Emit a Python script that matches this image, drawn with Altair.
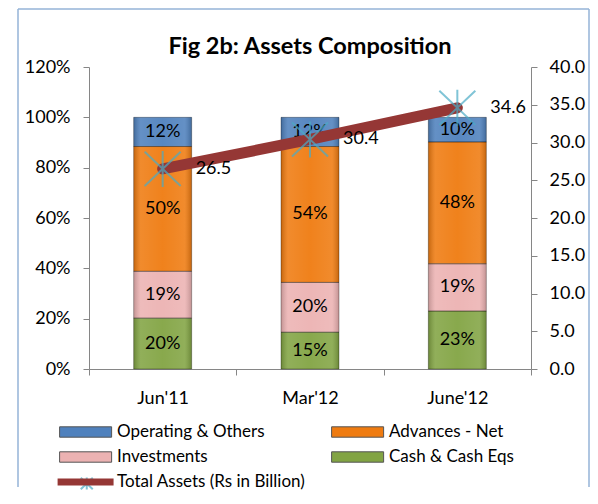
import altair as alt
import pandas as pd

categories = ["Jun'11", "Mar'12", "June'12"]
series_names = ["Operating & Others", "Advances - Net", "Investments", "Cash & Cash Eqs"]
stack_order = [4, 3, 2, 1]
others = [11.6, 11.6, 9.8]
advances = [49.6, 54.0, 48.4]
investments = [18.6, 19.8, 18.8]
cash = [20.2, 14.6, 23.0]
total_assets = [26.5, 30.4, 34.6]
line_name = "Total Assets (Rs in Billion)"
pct_ticks = [0, 20, 40, 60, 80, 100, 120]
right_ticks = [0, 5, 10, 15, 20, 25, 30, 35, 40]

bar_colors = ["#4F81BD", "#EF7B10", "#ECB2B2", "#82A443"]
line_color = "#953735"
marker_color = "#4BACC6"
border_color = "#95B3D7"
axis_color = "#868686"
FONT = "Lato"

rows = []
for name, order, vals in zip(series_names, stack_order, [others, advances, investments, cash]):
    for c, v in zip(categories, vals):
        rows.append({"period": c, "series": name, "order": order, "value": v})
bars_df = pd.DataFrame(rows)
line_df = pd.DataFrame({"period": categories, "total": total_assets,
                        "line": line_name, "marker": "marker"})

asterisk = "M-1,-0.95L1,0.95M-1,0.95L1,-0.95M0,-1L0,1"
# legend glyphs (unit = half the symbol size)
swatch_path = "M-1,-0.5H4V0.5H-1Z"
legend_line_path = "M-1,0H4.38"
LEG_SIZE = 433

x_enc = alt.X("period:N", sort=categories,
              scale=alt.Scale(paddingInner=0, paddingOuter=0),
              axis=alt.Axis(title=None, labelAngle=0, tickBand="extent", grid=False,
                            labelPadding=14, tickSize=6, labelFontSize=18))

y_left_scale = alt.Scale(domain=[0, 120])
left_axis = alt.Axis(title=None, values=pct_ticks, labelExpr="datum.value + '%'",
                     grid=False, tickSize=6, labelPadding=13, labelFontSize=18)

base = alt.Chart(bars_df).transform_stack(
    stack="value", groupby=["period"], sort=[alt.SortField("order")], as_=["y0", "y1"]
).transform_calculate(mid="(datum.y0 + datum.y1) / 2",
                      lbl="round(datum.value) + '%'")

bars = base.mark_bar(size=58).encode(
    x=x_enc,
    y=alt.Y("y1:Q", scale=y_left_scale, axis=left_axis),
    y2="y0:Q",
    color=alt.Color("series:N", scale=alt.Scale(domain=series_names, range=bar_colors),
                    legend=alt.Legend(title=None, orient="none", legendX=-30, legendY=354,
                                      columns=2, direction="horizontal",
                                      symbolType=swatch_path,
                                      symbolSize=LEG_SIZE, symbolStrokeWidth=1,
                                      symbolStrokeColor="#555555",
                                      labelFontSize=17, labelOffset=36, columnPadding=64,
                                      rowPadding=6, padding=0, labelLimit=300)),
)

gloss_fill = alt.LinearGradient(
    gradient="linear", x1=0, x2=1, y1=0, y2=0,
    stops=[alt.GradientStop(offset=0, color="rgba(0,0,0,0.18)"),
           alt.GradientStop(offset=0.12, color="rgba(255,255,255,0.12)"),
           alt.GradientStop(offset=0.5, color="rgba(255,255,255,0.05)"),
           alt.GradientStop(offset=0.88, color="rgba(255,255,255,0.12)"),
           alt.GradientStop(offset=1, color="rgba(0,0,0,0.18)")])
gloss = base.mark_bar(size=58, fill=gloss_fill, stroke="rgba(0,0,0,0.3)",
                      strokeWidth=1).encode(
    x=x_enc, y=alt.Y("y1:Q", scale=y_left_scale, axis=left_axis), y2="y0:Q")

bar_text = base.mark_text(fontSize=18, color="black", baseline="middle").encode(
    x=x_enc, y=alt.Y("mid:Q", scale=y_left_scale, axis=left_axis), text="lbl:N")

one = alt.Data(values=[{"k": 1}])
b_left = alt.Chart(one).mark_rule(color=border_color, strokeWidth=1.5).encode(
    x=alt.value(-71), y=alt.value(-58), y2=alt.value(420))
b_right = alt.Chart(one).mark_rule(color=border_color, strokeWidth=1.5).encode(
    x=alt.value(500), y=alt.value(-58), y2=alt.value(420))
b_top = alt.Chart(one).mark_rule(color=border_color, strokeWidth=1.5).encode(
    x=alt.value(-71), x2=alt.value(500), y=alt.value(-58))

left = alt.layer(b_left, b_right, b_top, bars, gloss, bar_text)

y_right = alt.Y("total:Q", scale=alt.Scale(domain=[0, 40]),
                axis=alt.Axis(orient="right", values=right_ticks, format=".1f", title=None,
                              grid=False, tickSize=6, labelPadding=12, labelFontSize=18))

line = alt.Chart(line_df).mark_line(strokeWidth=11, strokeCap="round").encode(
    x=x_enc, y=y_right,
    stroke=alt.Stroke("line:N", scale=alt.Scale(domain=[line_name], range=[line_color]),
                      legend=alt.Legend(title=None, orient="none", legendX=-35, legendY=401,
                                        symbolType=legend_line_path, symbolSize=LEG_SIZE,
                                        symbolStrokeWidth=7, labelFontSize=17,
                                        labelOffset=35, padding=0, labelLimit=300)))

points = alt.Chart(line_df).mark_point(size=1296, filled=False, strokeWidth=2,
                                       color=marker_color).encode(
    x=x_enc, y=y_right,
    shape=alt.Shape("marker:N", scale=alt.Scale(domain=["marker"], range=[asterisk]),
                    legend=alt.Legend(title=None, orient="none", legendX=-10.75,
                                      legendY=408,
                                      symbolSize=144, symbolStrokeWidth=2,
                                      symbolStrokeColor=marker_color,
                                      symbolFillColor="transparent",
                                      labelFontSize=17, labelExpr="''", padding=0)))

line_text = alt.Chart(line_df).mark_text(align="left", dx=33, baseline="middle",
                                         fontSize=18, color="black").encode(
    x=x_enc, y=y_right, text=alt.Text("total:Q", format=".1f"))

right = alt.layer(line, points, line_text)

chart = alt.layer(left, right).resolve_scale(y="independent", stroke="independent").properties(
    width=442, height=302,
    title=alt.TitleParams("Fig 2b: Assets Composition", fontSize=23.5, fontWeight="bold",
                          font=FONT, anchor="middle", offset=-50, color="black"),
    padding={"left": 9, "top": 0, "right": 0, "bottom": 0},
).configure(font=FONT).configure_view(stroke=None).configure_axis(
    domainColor=axis_color, tickColor=axis_color, labelColor="black", labelFont=FONT
).configure_legend(labelColor="black", labelFont=FONT)

chart.save("out.html", embed_options={"renderer": "svg", "actions": False})
